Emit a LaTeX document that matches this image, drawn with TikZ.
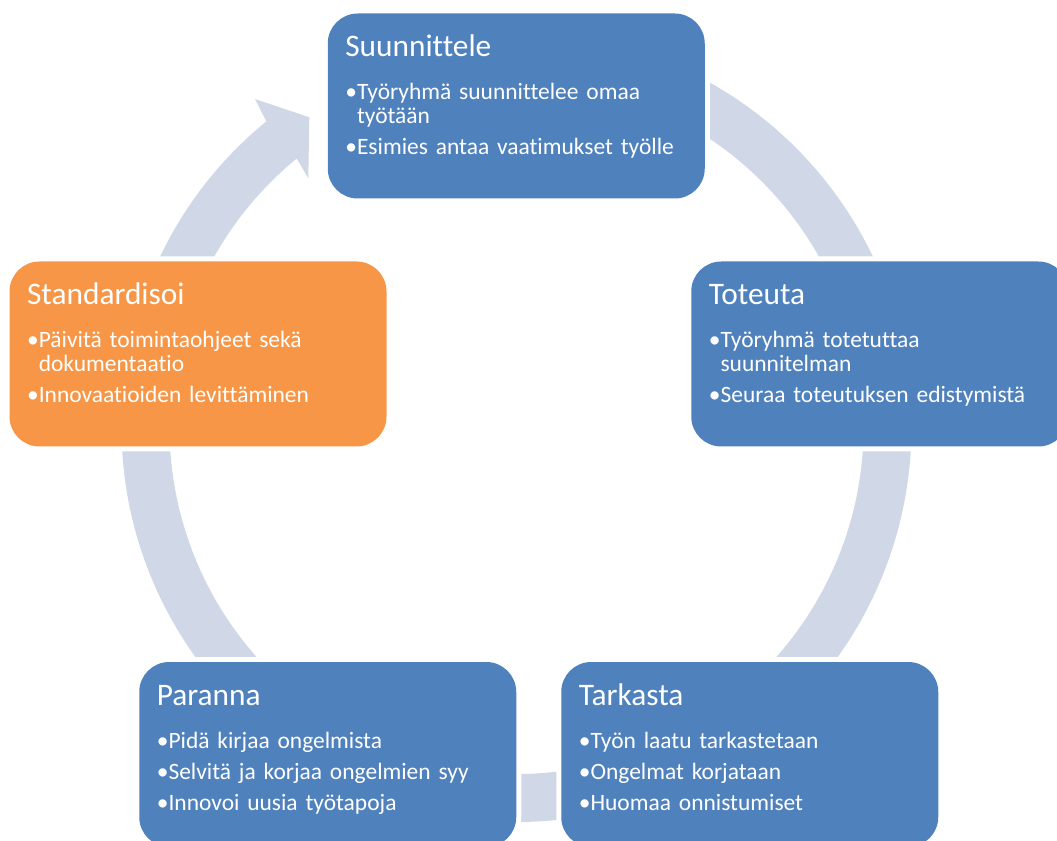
\documentclass[tikz,border=0pt]{standalone}
\usepackage{fontspec}
\setmainfont{Carlito}[Ligatures=NoCommon]
\usetikzlibrary{calc}

\definecolor{boxblue}{RGB}{79,129,189}
\definecolor{boxorange}{RGB}{247,150,70}
\definecolor{ringgray}{RGB}{208,216,232}

% bullet paragraph with hanging indent under the bullet
\newlength\bulw
\newcommand\bul[1]{\par\settowidth\bulw{•}\noindent\hangindent=\bulw\hangafter=1 •#1}
\newcommand\steptitle[1]{{\fontsize{23.5pt}{23.5pt}\selectfont #1}\par\vspace{8.6pt}}

\tikzset{
  phase/.style={rectangle, rounded corners=22.5pt, minimum width=282.75pt,
    minimum height=138.75pt, inner sep=0pt, fill=boxblue,
    preaction={draw=white, line width=7.5pt}},
  phaseorange/.style={phase, fill=boxorange},
  phasetext/.style={anchor=base west, inner sep=0pt, text=white,
    text width=262pt, align=left,
    font=\fontsize{17.6pt}{18pt}\selectfont\setlength{\parskip}{5.6pt}},
}

\begin{document}
\begin{tikzpicture}[x=0.75pt, y=0.75pt]
\useasboundingbox (0,0) rectangle (1057,-841);

% circular arrow running clockwise behind the phases
\coordinate (C) at (516.5,-427);
\fill[ringgray] ($(C)+(129.3:395)$) arc[start angle=129.3, end angle=460, radius=395]
  -- ($(C)+(460:347)$) arc[start angle=460, end angle=129.3, radius=347]
  -- (308.3,-178.3) -- (309.3,-117.3) -- (255,-99) -- cycle;

% phases
\node[phase] (plan) at (516.25,-106) {};
\node[phase] (do) at (879.75,-354) {};
\node[phase] (check) at (749.75,-754.5) {};
\node[phase] (improve) at (327.75,-754.5) {};
\node[phaseorange] (std) at (198,-354) {};

\node[phasetext] (plant) at ([shift={(13.2pt,-32.5pt)}]plan.north west) {%
  \steptitle{Suunnittele}%
  \bul{Työryhmä suunnittelee omaa\newline työtään}%
  \bul{Esimies antaa vaatimukset työlle}};
\node[phasetext] (dot) at ([shift={(13.2pt,-32.5pt)}]do.north west) {%
  \steptitle{Toteuta}%
  \bul{Työryhmä totetuttaa\newline suunnitelman}%
  \bul{Seuraa toteutuksen edistymistä}};
\node[phasetext] (checkt) at ([shift={(13.2pt,-32.5pt)}]check.north west) {%
  \steptitle{Tarkasta}%
  \bul{Työn laatu tarkastetaan}%
  \bul{Ongelmat korjataan}%
  \bul{Huomaa onnistumiset}};
\node[phasetext] (improvet) at ([shift={(13.2pt,-32.5pt)}]improve.north west) {%
  \steptitle{Paranna}%
  \bul{Pidä kirjaa ongelmista}%
  \bul{Selvitä ja korjaa ongelmien syy}%
  \bul{Innovoi uusia työtapoja}};
\node[phasetext] (stdt) at ([shift={(13.2pt,-32.5pt)}]std.north west) {%
  \steptitle{Standardisoi}%
  \bul{Päivitä toimintaohjeet sekä\newline dokumentaatio}%
  \bul{Innovaatioiden levittäminen}};
\end{tikzpicture}
\end{document}
